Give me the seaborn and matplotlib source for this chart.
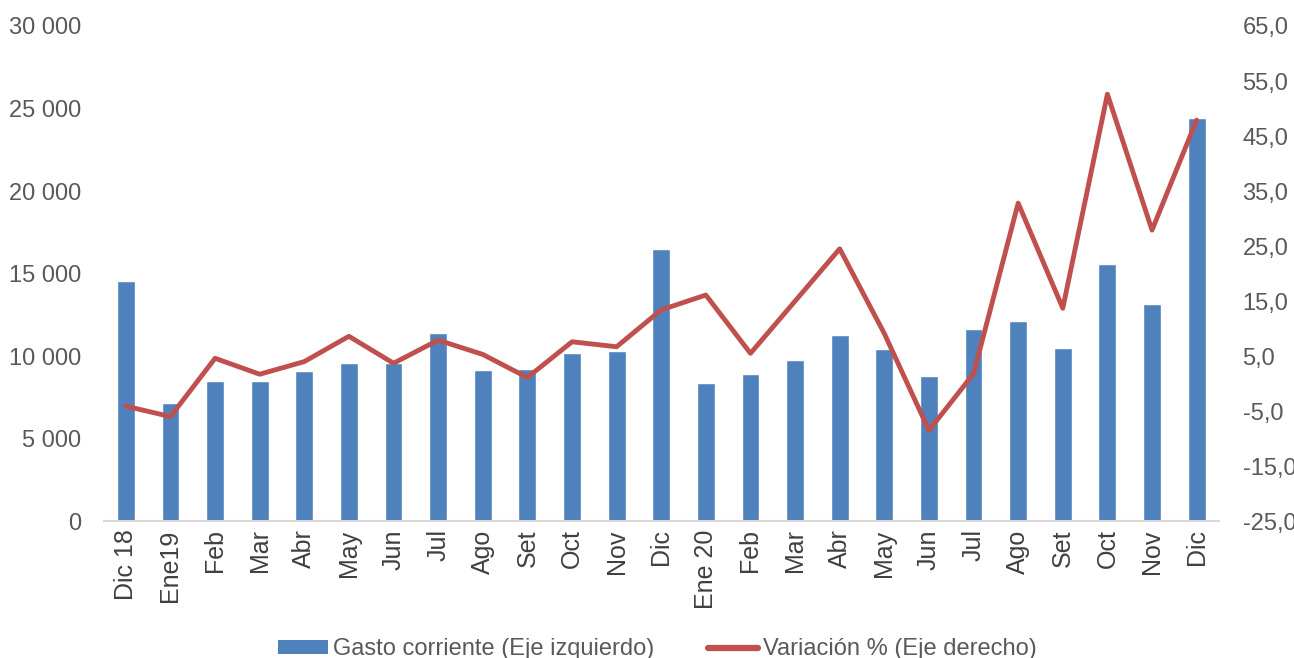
import matplotlib
matplotlib.use("Agg")
import matplotlib.pyplot as plt
import seaborn as sns
import numpy as np
import pandas as pd
from matplotlib.lines import Line2D
from matplotlib.patches import Patch

categories = ["Dic 18", "Ene19", "Feb", "Mar", "Abr", "May", "Jun", "Jul", "Ago", "Set",
              "Oct", "Nov", "Dic", "Ene 20", "Feb", "Mar", "Abr", "May", "Jun", "Jul",
              "Ago", "Set", "Oct", "Nov", "Dic"]
gasto = [14550, 7170, 8470, 8470, 9090, 9600, 9600, 11400, 9150, 9190,
         10200, 10280, 16480, 8340, 8930, 9760, 11280, 10430, 8800, 11620,
         12150, 10470, 15580, 13150, 24400]
variacion = [-4.1, -6.0, 4.6, 1.7, 4.0, 8.6, 3.7, 7.9, 5.3, 1.1,
             7.6, 6.7, 13.4, 16.1, 5.5, 15.0, 24.5, 9.1, -8.5, 1.8,
             32.8, 13.7, 52.6, 27.9, 47.9]
left_ticks = [0, 5000, 10000, 15000, 20000, 25000, 30000]
right_ticks = [-25, -15, -5, 5, 15, 25, 35, 45, 55, 65]

bar_color = "#4F81BD"
line_color = "#C0504D"
text_color = "#595959"

sns.set_style("white")
plt.rcParams["font.family"] = ["Liberation Sans", "DejaVu Sans"]

fig = plt.figure(figsize=(12.94, 6.58), dpi=100)
ax = fig.add_axes([0.080, 0.208, 0.862, 0.7525])

idx = list(range(len(categories)))
df = pd.DataFrame({"pos": [str(i) for i in idx], "gasto": gasto, "var": variacion, "x": idx})

sns.barplot(data=df, x="pos", y="gasto", color=bar_color, width=0.40, saturation=1,
            ax=ax, order=[str(i) for i in idx])
ax.set_xlim(-0.5, len(categories) - 0.5)
ax.set_ylim(0, 30000)
ax.set_yticks(left_ticks)
ax.set_yticklabels([f"{v:,}".replace(",", " ") for v in left_ticks], fontsize=17, color=text_color)
ax.set_xticks(idx)
ax.set_xticklabels(categories, rotation=90, fontsize=18, color="#404040")
ax.set_xlabel("")
ax.set_ylabel("")
ax.tick_params(axis="x", length=0, pad=6)
ax.tick_params(axis="y", length=0, pad=16)
for s in ["top", "right", "left"]:
    ax.spines[s].set_visible(False)
ax.spines["bottom"].set_color("#D9D9D9")
ax.spines["bottom"].set_linewidth(1.5)

ax2 = ax.twinx()
sns.lineplot(data=df, x="x", y="var", color=line_color, linewidth=3.5, ax=ax2)
ax2.set_ylim(-25, 65)
ax2.set_yticks(right_ticks)
ax2.set_yticklabels([f"{v:.1f}".replace(".", ",") for v in right_ticks], fontsize=17, color=text_color)
ax2.set_xlim(-0.5, len(categories) - 0.5)
ax2.set_xlabel("")
ax2.set_ylabel("")
ax2.tick_params(axis="y", length=0, pad=17)
for s in ["top", "right", "left", "bottom"]:
    ax2.spines[s].set_visible(False)

handles = [Patch(facecolor=bar_color, edgecolor="none"),
           Line2D([0], [0], color=line_color, linewidth=4.5)]
labels = ["Gasto corriente (Eje izquierdo)", "Variación % (Eje derecho)"]
fig.legend(handles, labels, loc="center", bbox_to_anchor=(0.508, 0.013), ncol=2,
           frameon=False, fontsize=17, labelcolor=text_color, handlelength=2.1,
           handleheight=0.55, columnspacing=2.3, handletextpad=0.2)

fig.savefig("out.png", dpi=100)
